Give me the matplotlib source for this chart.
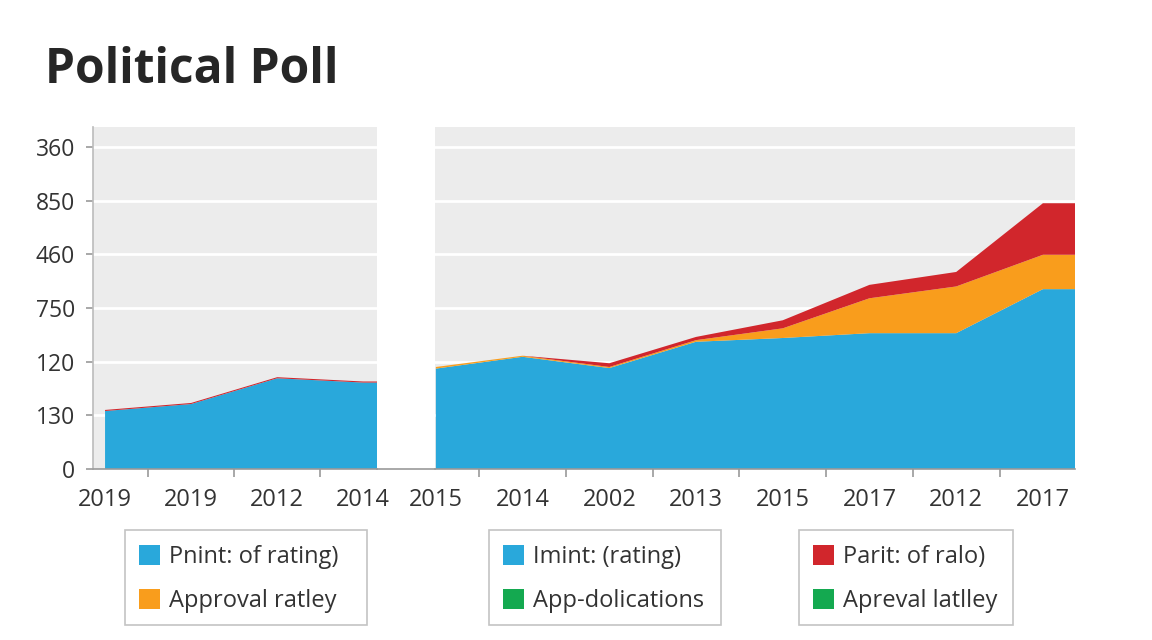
import matplotlib
matplotlib.use("Agg")
import matplotlib.pyplot as plt
import numpy as np
from matplotlib.lines import Line2D
from matplotlib.patches import Patch, Rectangle

plt.rcParams["font.family"] = ["Open Sans", "DejaVu Sans"]

# ---------------------------------------------------------------- data
title = "Political Poll"
y_tick_labels = ["0", "130", "120", "750", "460", "850", "360"]

left_years = ["2019", "2019", "2012", "2014"]
left_blue = [1.08, 1.21, 1.69, 1.61]
left_orange = [0.0, 0.0, 0.0, 0.0]
left_red = [0.02, 0.02, 0.02, 0.02]

right_years = ["2015", "2014", "2002", "2013", "2015", "2017", "2012", "2017"]
right_blue = [1.87, 2.09, 1.88, 2.37, 2.44, 2.53, 2.53, 3.35]
right_orange = [0.03, 0.02, 0.02, 0.03, 0.18, 0.65, 0.87, 0.64]
right_red = [0.0, 0.0, 0.07, 0.06, 0.15, 0.25, 0.27, 0.96]

legend_labels = [
    ["Pnint: of rating)", "Approval ratley"],
    ["Imint: (rating)", "App-dolications"],
    ["Parit: of ralo)", "Apreval latlley"],
]
legend_keys = [["blue", "orange"], ["blue", "green"], ["red", "green"]]

# ---------------------------------------------------------------- style
COLORS = {"blue": "#29A8DB", "orange": "#F99D1C", "red": "#D1262C",
          "green": "#14A950"}
BG = "#ECECEC"
TEXT = "#333333"
W, H = 1152, 640


def fx(px):
    return px / W


def fy(py):
    return 1 - py / H


fig = plt.figure(figsize=(W / 100, H / 100), dpi=100)
fig.text(fx(45), fy(83), title, fontsize=34.5, fontweight="bold",
         color="#262626", ha="left", va="baseline")

ymax = 6.37
ax_l = fig.add_axes([fx(93), fy(469), (377 - 93) / W, (469 - 127) / H])
ax_r = fig.add_axes([fx(435), fy(469), (1075 - 435) / W, (469 - 127) / H])


def draw_segment(ax, years, blue, orange, red, xlim):
    n = len(years)
    x = np.append(np.arange(n), xlim[1])
    ext = lambda v: np.append(v, v[-1])
    ax.set_facecolor(BG)
    ax.stackplot(x, ext(blue), ext(orange), ext(red),
                 colors=[COLORS["blue"], COLORS["orange"], COLORS["red"]],
                 linewidth=0, zorder=3)
    ax.set_xlim(*xlim)
    ax.set_ylim(0, ymax)
    ax.set_xticks(np.arange(n))
    ax.set_xticklabels(years)
    ax.set_xticks(np.arange(n - 1) + 0.5, minor=True)
    ax.tick_params(axis="x", which="major", length=0, pad=14,
                   labelsize=17, labelcolor=TEXT)
    ax.tick_params(axis="x", which="minor", length=6, width=1.2,
                   color="#999999")
    ax.set_yticks(np.arange(len(y_tick_labels)))
    for yv in range(1, len(y_tick_labels)):
        ax.axhline(yv, color="white", linewidth=2, zorder=1)
    for s in ("top", "right"):
        ax.spines[s].set_visible(False)
    ax.spines["bottom"].set_color("#999999")
    ax.spines["bottom"].set_linewidth(1.2)
    ax.spines["bottom"].set_zorder(4)


draw_segment(ax_l, left_years, left_blue, left_orange, left_red, (-0.14, 3.16))
draw_segment(ax_r, right_years, right_blue, right_orange, right_red, (-0.01, 7.37))

ax_l.set_yticklabels(y_tick_labels)
ax_l.tick_params(axis="y", length=5, width=1.2, color="#999999", pad=8,
                 labelsize=16.5, labelcolor=TEXT)
ax_l.spines["left"].set_color("#BBBBBB")
ax_l.spines["left"].set_linewidth(1.2)
ax_r.spines["left"].set_visible(False)
ax_r.tick_params(axis="y", length=0, labelleft=False)

# baseline continues across the gap
fig.add_artist(Line2D([fx(377), fx(435)], [fy(469), fy(469)],
                      color="#999999", linewidth=1.2))

# ---------------------------------------------------------------- legends
boxes = [(125, 367), (489, 721), (799, 1013)]
for (x0, x1), labels, keys in zip(boxes, legend_labels, legend_keys):
    fig.add_artist(Rectangle((fx(x0), fy(625)), (x1 - x0) / W, 95 / H,
                             transform=fig.transFigure, facecolor="white",
                             edgecolor="#C4C4C4", linewidth=1.2))
    handles = [Patch(facecolor=COLORS[k], edgecolor="none") for k in keys]
    fig.legend(handles, labels, loc="upper left",
               bbox_to_anchor=(fx(x0 + 14), fy(545)), frameon=False,
               borderpad=0, borderaxespad=0, fontsize=17,
               handlelength=0.9, handleheight=0.9, handletextpad=0.35,
               labelspacing=0.86, labelcolor=TEXT)

fig.savefig("out.png", dpi=100)
